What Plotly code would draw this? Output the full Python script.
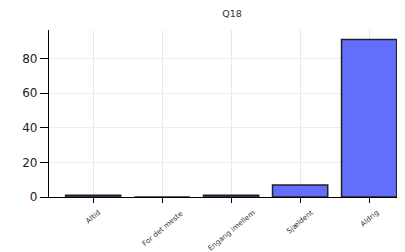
import plotly.graph_objects as go

categories = ["Altid", "For det meste", "Engang imellem", "Sjældent", "Aldrig"]
values = [1, 0, 1, 7, 91]
y_ticks = [0, 20, 40, 60, 80]

fig = go.Figure(go.Bar(
    x=categories, y=values,
    marker=dict(color="#636efa", line=dict(color="#222222", width=1.5)),
))
# page body has an 8px default margin, so figure is 8px smaller
fig.update_layout(
    width=397, height=244,
    margin=dict(l=41, r=0, t=22, b=55, autoexpand=False),
    paper_bgcolor="white", plot_bgcolor="white",
    font=dict(family="DejaVu Sans", color="#222"),
    title=dict(text="Q18", x=0.514, xref="paper", xanchor="center",
               y=0.99, yanchor="top", font=dict(size=9.5, color="#333")),
    showlegend=False,
    bargap=0.2,
)
for c in categories:
    fig.add_annotation(x=c, xref="x", y=-0.05, yref="paper", text=c,
                       showarrow=False, textangle=-40, xanchor="center",
                       yanchor="top", font=dict(size=7.2, color="#333"))
fig.update_xaxes(
    range=[-0.64, 4.52], showticklabels=False, automargin=False,
    showline=True, linecolor="black", linewidth=1.2,
    ticks="outside", ticklen=5, tickcolor="black",
    showgrid=True, gridcolor="#e8e8f0",
)
fig.update_yaxes(
    range=[0, 96.5], tickvals=y_ticks, tickfont=dict(size=12, color="#222"),
    showline=True, linecolor="black", linewidth=1.2, automargin=False,
    ticks="outside", ticklen=8, tickcolor="black",
    showgrid=True, gridcolor="#ececf2", zeroline=False,
)
fig.write_html("out.html")
